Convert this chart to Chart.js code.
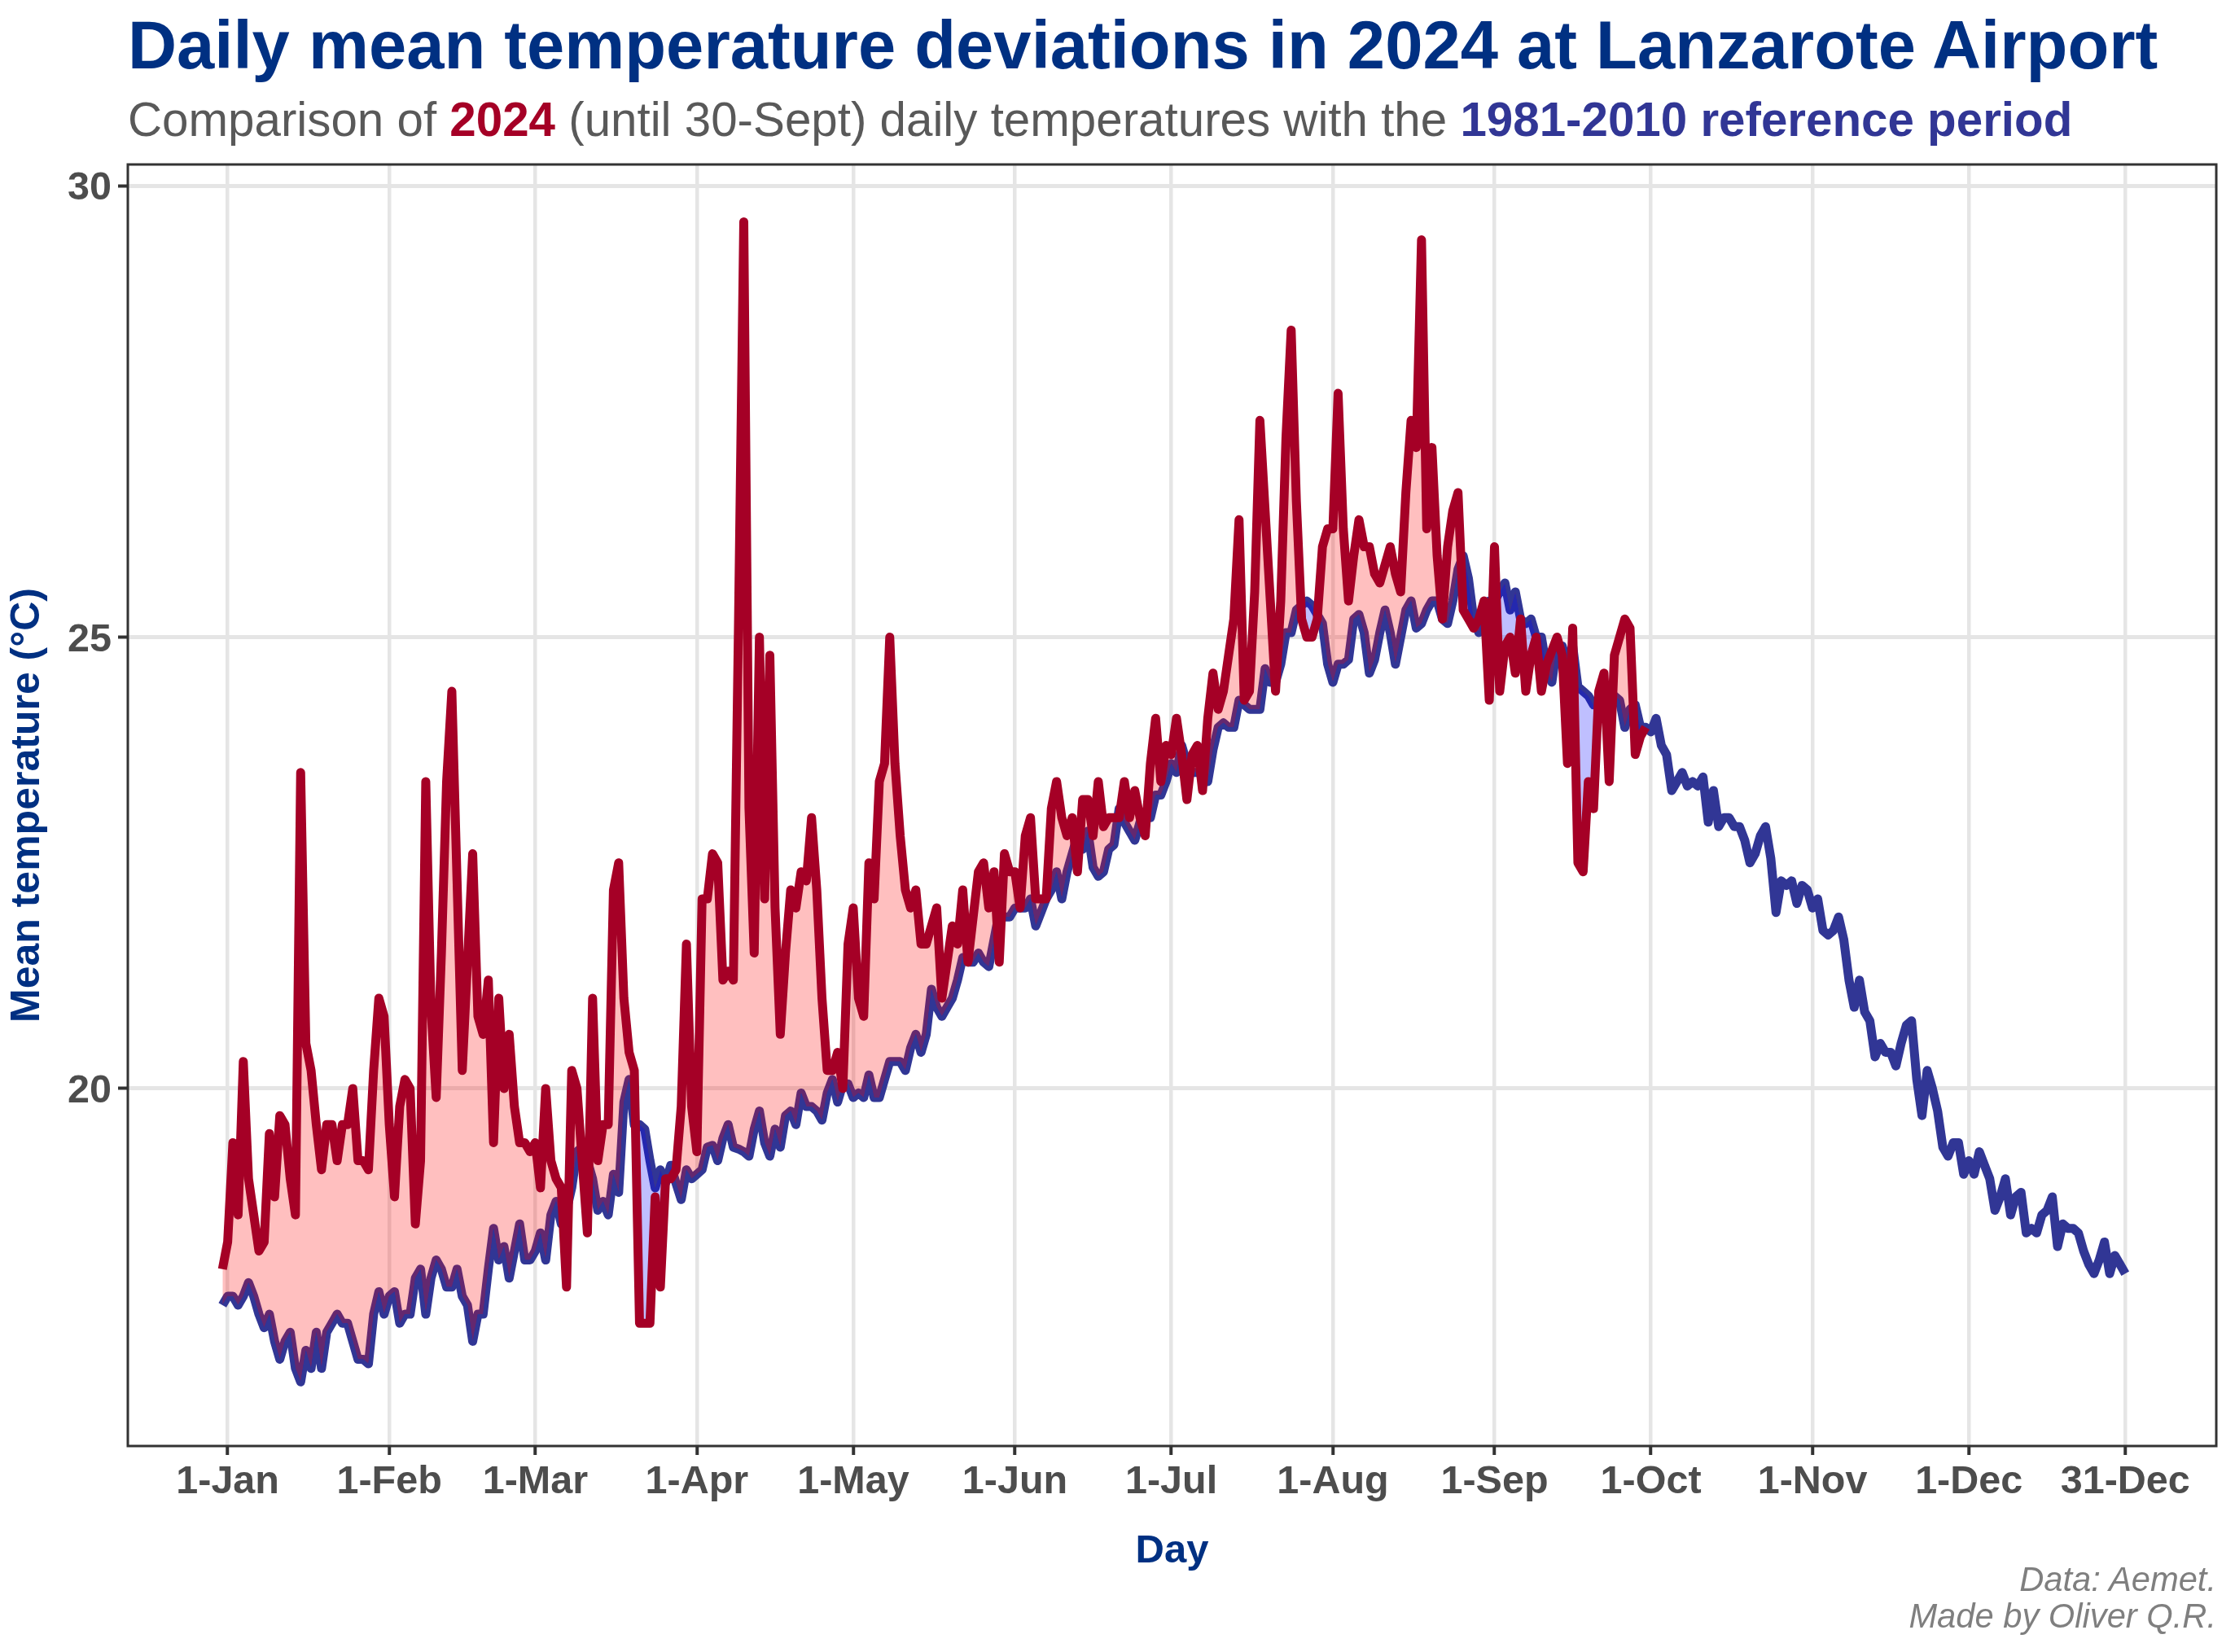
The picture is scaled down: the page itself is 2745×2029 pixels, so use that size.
<!DOCTYPE html>
<html>
<head>
<meta charset="utf-8">
<title>Lanzarote Airport 2024</title>
<script src="https://cdn.jsdelivr.net/npm/chart.js@4"></script>
<style>
    html, body { margin: 0; padding: 0; background: #fff; }
    body { width: 2745px; height: 2029px; position: relative; overflow: hidden; font-family: "Liberation Sans", Arial, sans-serif; }
    canvas { position: absolute; left: 0; top: 0; }
    .txt { position: absolute; white-space: nowrap; }
    #title { left: 157px; top: 13px; font-size: 83.2px; line-height: 85px; font-weight: bold; color: #003082; }
    #subtitle { left: 157px; top: 115px; font-size: 58.3px; line-height: 64px; color: #595959; }
    #subtitle .y2024 { font-weight: bold; color: #a50026; }
    #subtitle .ref { font-weight: bold; color: #313695; }
    #caption { right: 23px; top: 1917px; font-size: 41.7px; line-height: 45px; font-style: italic; color: #7f7f7f; text-align: right; }
</style>
</head>
<body>
<canvas id="chart" width="2745" height="2029"></canvas>
<div class="txt" id="title">Daily mean temperature deviations in 2024 at Lanzarote Airport</div>
<div class="txt" id="subtitle">Comparison of <span class="y2024">2024</span> (until 30-Sept) daily temperatures with the <span class="ref">1981-2010 reference period</span></div>
<div class="txt" id="caption">Data: Aemet.<br>Made by Oliver Q.R.</div>
<script>
// Values, one per day of year starting at day 0
const temps2024 = [
    18.0,18.3,19.4,18.6,20.3,19.0,18.6,18.2,18.3,19.5,
    18.8,19.7,19.6,19.0,18.6,23.5,20.5,20.2,19.6,19.1,
    19.6,19.6,19.2,19.6,19.6,20.0,19.2,19.2,19.1,20.2,
    21.0,20.8,19.6,18.8,19.8,20.1,20.0,18.5,19.2,23.4,
    20.9,19.9,21.5,23.4,24.4,22.3,20.2,21.4,22.6,20.8,
    20.6,21.2,19.4,21.0,20.0,20.6,19.8,19.4,19.4,19.3,
    19.4,18.9,20.0,19.2,19.0,18.9,17.8,20.2,20.0,19.2,
    18.4,21.0,19.2,19.6,19.6,22.2,22.5,21.0,20.4,20.2,
    17.4,17.4,17.4,18.8,17.8,19.0,19.0,19.1,19.8,21.6,
    19.8,19.3,22.1,22.1,22.6,22.5,21.2,21.3,21.2,25.2,
    29.6,23.1,21.5,25.0,22.1,24.8,22.0,20.6,21.5,22.2,
    22.0,22.4,22.3,23.0,22.2,21.0,20.2,20.2,20.4,20.0,
    21.6,22.0,21.0,20.8,22.5,22.1,23.4,23.6,25.0,23.6,
    22.8,22.2,22.0,22.2,21.6,21.6,21.8,22.0,21.0,21.4,
    21.8,21.6,22.2,21.4,21.9,22.4,22.5,22.0,22.4,21.4,
    22.6,22.4,22.4,22.0,22.8,23.0,22.1,22.1,22.1,23.1,
    23.4,23.0,22.8,23.0,22.4,23.2,23.2,22.8,23.4,22.9,
    23.0,23.0,23.0,23.4,23.0,23.3,23.0,22.8,23.6,24.1,
    23.4,23.8,23.7,24.1,23.7,23.2,23.7,23.8,23.3,24.1,
    24.6,24.2,24.4,24.8,25.2,26.3,24.3,24.4,25.5,27.4,
    26.4,25.4,24.4,25.4,27.2,28.4,26.5,25.2,25.0,25.0,
    25.2,26.0,26.2,26.2,27.7,26.2,25.4,25.9,26.3,26.0,
    26.0,25.7,25.6,25.8,26.0,25.7,25.5,26.6,27.4,27.1,
    29.4,26.2,27.1,25.9,25.2,26.0,26.4,26.6,25.3,25.2,
    25.1,25.2,25.4,24.3,26.0,24.4,24.9,25.0,24.6,25.2,
    24.4,24.8,25.0,24.4,24.7,24.85,25.0,24.8,23.6,25.1,
    22.5,22.4,23.4,23.1,24.4,24.6,23.4,24.8,25.0,25.2,
    25.1,23.7,23.9,24.0
];
const tempsRef = [
    17.6,17.7,17.7,17.6,17.7,17.85,17.7,17.5,17.35,17.5,
    17.2,17.0,17.2,17.3,16.9,16.75,17.1,16.9,17.3,16.9,
    17.3,17.4,17.5,17.4,17.4,17.2,17.0,17.0,16.95,17.5,
    17.75,17.5,17.7,17.75,17.4,17.5,17.5,17.9,18.0,17.5,
    17.9,18.1,18.0,17.8,17.8,18.0,17.7,17.6,17.2,17.5,
    17.5,18.0,18.45,18.1,18.25,17.9,18.2,18.5,18.1,18.1,
    18.2,18.4,18.1,18.6,18.75,18.5,18.65,18.9,19.3,19.35,
    19.2,19.0,18.65,18.75,18.6,19.05,18.85,19.85,20.1,19.6,
    19.6,19.55,19.2,18.9,19.1,18.95,19.15,18.95,18.77,19.1,
    19.0,19.05,19.1,19.35,19.37,19.2,19.45,19.6,19.35,19.33,
    19.3,19.25,19.55,19.75,19.4,19.25,19.55,19.35,19.7,19.75,
    19.6,19.95,19.8,19.8,19.75,19.65,19.95,20.1,19.85,20.05,
    20.05,19.9,19.95,19.9,20.15,19.9,19.9,20.1,20.3,20.3,
    20.3,20.2,20.45,20.6,20.4,20.6,21.1,20.9,20.8,20.9,
    21.0,21.2,21.45,21.4,21.4,21.5,21.4,21.35,21.65,21.95,
    21.9,21.9,22.0,22.0,22.0,22.1,21.8,21.95,22.1,22.2,
    22.4,22.1,22.4,22.6,22.8,22.65,22.85,22.45,22.35,22.4,
    22.65,22.7,23.1,22.95,22.85,22.75,22.95,23.0,23.0,23.25,
    23.25,23.4,23.6,23.5,23.8,23.6,23.5,23.5,23.5,23.4,
    23.75,24.0,24.05,24.0,24.0,24.3,24.25,24.2,24.2,24.2,
    24.65,24.5,24.5,24.7,25.05,25.05,25.3,25.35,25.4,25.35,
    25.25,25.15,24.7,24.5,24.7,24.7,24.75,25.2,25.25,25.05,
    24.6,24.75,25.05,25.3,25.05,24.7,25.0,25.3,25.4,25.1,
    25.15,25.3,25.4,25.4,25.2,25.15,25.4,25.75,25.9,25.65,
    25.2,25.05,25.3,25.4,25.4,25.5,25.6,25.3,25.5,25.2,
    25.15,25.2,25.0,25.0,24.65,24.5,24.9,24.9,24.7,24.9,
    24.45,24.4,24.35,24.25,24.25,24.25,24.3,24.35,24.3,24.0,
    24.2,24.25,24.0,24.0,23.95,24.1,23.8,23.7,23.3,23.4,
    23.5,23.35,23.4,23.35,23.45,22.95,23.3,22.9,23.0,23.0,
    22.9,22.9,22.75,22.5,22.6,22.8,22.9,22.55,21.95,22.3,
    22.25,22.3,22.05,22.25,22.2,22.0,22.1,21.75,21.7,21.75,
    21.9,21.65,21.2,20.9,21.2,20.85,20.75,20.35,20.5,20.4,
    20.4,20.25,20.5,20.7,20.75,20.1,19.7,20.2,20.0,19.75,
    19.35,19.25,19.4,19.4,19.05,19.2,19.05,19.3,19.15,19.0,
    18.65,18.8,19.0,18.6,18.8,18.85,18.4,18.45,18.4,18.6,
    18.65,18.8,18.25,18.5,18.45,18.45,18.4,18.2,18.05,17.95,
    18.1,18.3,17.95,18.15,18.05,17.95
];
const tickDays = [1, 32, 60, 91, 121, 152, 182, 213, 244, 274, 305, 335, 365];
const tickLabels = ['1-Jan', '1-Feb', '1-Mar', '1-Apr', '1-May', '1-Jun', '1-Jul', '1-Aug', '1-Sep', '1-Oct', '1-Nov', '1-Dec', '31-Dec'];
const tempTicks = [20, 25, 30];

const toPoints = (values) => values.map((y, day) => ({ x: day, y: y }));

// Dark frame round the plot, like the theme_bw panel border
const panelBorder = {
    id: 'panelBorder',
    afterDatasetsDraw(chart) {
        const { ctx, chartArea: a } = chart;
        ctx.save();
        ctx.strokeStyle = '#333333';
        ctx.lineWidth = 3;
        ctx.strokeRect(a.left, a.top, a.right - a.left, a.bottom - a.top);
        ctx.restore();
    }
};

const ctx = document.getElementById('chart').getContext('2d');
new Chart(ctx, {
    type: 'line',
    data: {
        datasets: [{
            label: '2024',
            data: toPoints(temps2024),
            borderColor: '#a50026',
            borderWidth: 11,
            borderJoinStyle: 'round',
            pointRadius: 0,
            tension: 0,
            fill: { target: 1, above: 'rgba(255,0,0,0.25)', below: 'rgba(0,0,255,0.25)' }
        }, {
            label: '1981-2010',
            data: toPoints(tempsRef),
            borderColor: '#313695',
            borderWidth: 11,
            borderJoinStyle: 'round',
            pointRadius: 0,
            tension: 0,
            fill: false
        }]
    },
    options: {
        responsive: false,
        animation: false,
        devicePixelRatio: 1,
        layout: { padding: { top: 202, right: 23, bottom: 94, left: 0 } },
        plugins: { legend: { display: false }, tooltip: { enabled: false } },
        scales: {
            x: {
                type: 'linear',
                min: -18.15,
                max: 382.45,
                afterBuildTicks: (scale) => { scale.ticks = tickDays.map((v) => ({ value: v })); },
                afterFit: (scale) => { scale.height = 159; },
                border: { display: false },
                grid: { color: '#e5e5e5', lineWidth: 4.5, tickColor: '#333333', tickWidth: 4, tickLength: 11 },
                ticks: {
                    autoSkip: false,
                    maxRotation: 0,
                    padding: 5,
                    color: '#4d4d4d',
                    font: { family: 'Liberation Sans', size: 48.5, weight: 'bold' },
                    callback: (v) => tickLabels[tickDays.indexOf(v)]
                },
                title: {
                    display: true,
                    text: 'Day',
                    color: '#003082',
                    padding: 0,
                    font: { family: 'Liberation Sans', size: 49, weight: 'bold' }
                }
            },
            y: {
                min: 16.04,
                max: 30.235,
                afterBuildTicks: (scale) => { scale.ticks = tempTicks.map((v) => ({ value: v })); },
                afterFit: (scale) => { scale.width = 157; },
                border: { display: false },
                grid: { color: '#e5e5e5', lineWidth: 5, tickColor: '#333333', tickWidth: 4, tickLength: 12 },
                ticks: {
                    padding: 8,
                    labelOffset: 4,
                    color: '#4d4d4d',
                    font: { family: 'Liberation Sans', size: 48.5, weight: 'bold' }
                },
                title: {
                    display: true,
                    text: 'Mean temperature (°C)',
                    color: '#003082',
                    padding: { top: 4, bottom: 0 },
                    font: { family: 'Liberation Sans', size: 50, weight: 'bold' }
                }
            }
        }
    },
    plugins: [panelBorder]
});
</script>
</body>
</html>
